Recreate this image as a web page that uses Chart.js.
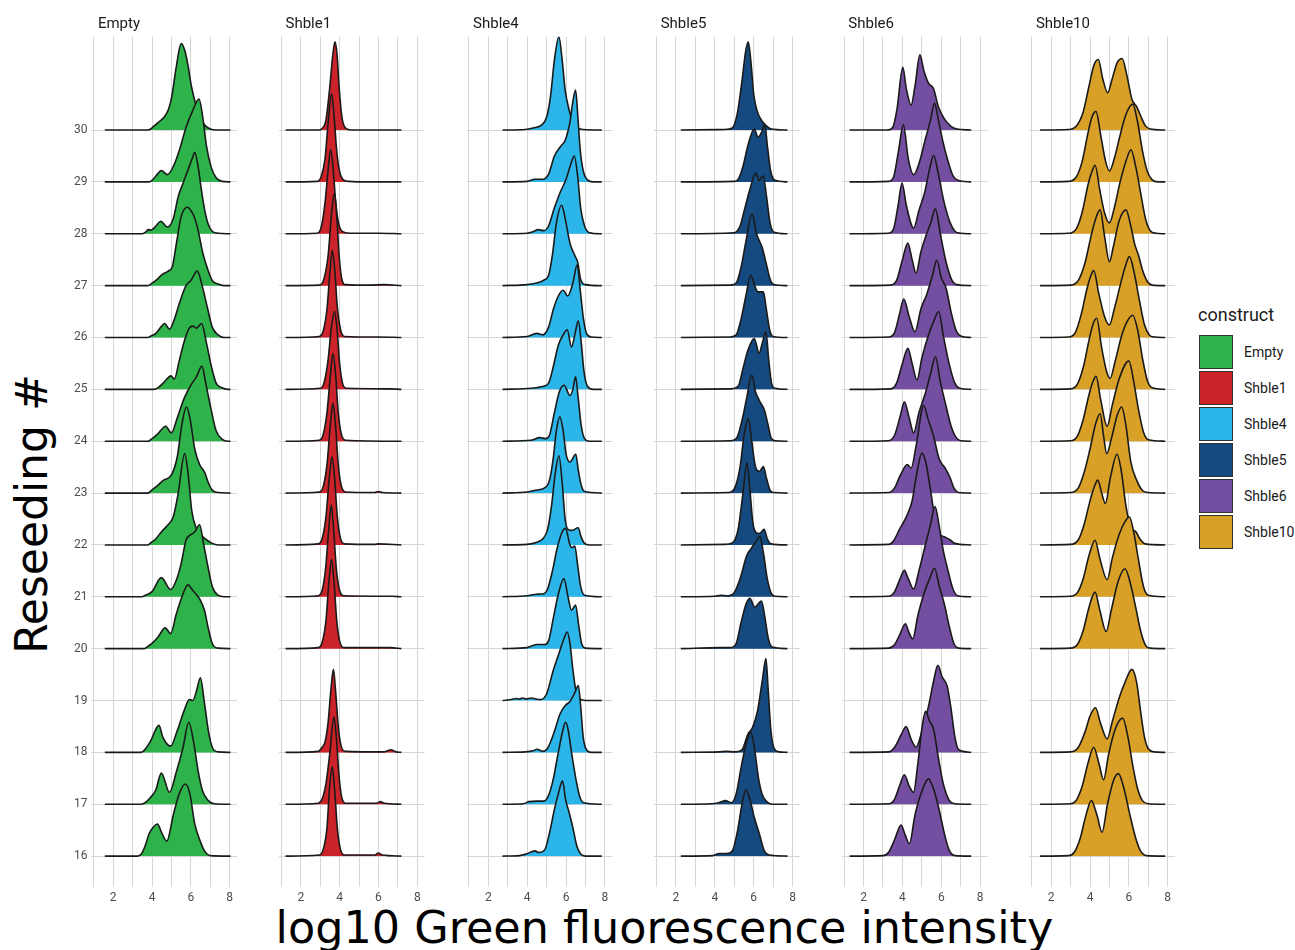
<!DOCTYPE html>
<html>
<head>
<meta charset="utf-8">
<script src="https://cdn.jsdelivr.net/npm/chart.js@4.4.0/dist/chart.umd.min.js"></script>
<style>
  body { margin: 0; width: 1295px; height: 950px; overflow: hidden; position: relative; background: #fff;
         font-family: Roboto, "Liberation Sans", sans-serif; }
  canvas { position: absolute; top: 0; }
  .strip { position: absolute; top: 14px; font-size: 15px; line-height: 18px; color: #1a1a1a; }
  #xtitle { position: absolute; left: 0; width: 1329px; top: 906px; text-align: center;
            font: 44.5px/44px "DejaVu Sans", sans-serif; color: #000; white-space: nowrap; }
  #ytitle { position: absolute; left: 32px; top: 514px; transform: translate(-50%, -50%) rotate(-90deg);
            font: 44px/44px "DejaVu Sans", sans-serif; color: #000; white-space: nowrap; }
  #legend-title { position: absolute; left: 1198px; top: 305px; font-size: 18px; line-height: 20px; color: #1a1a1a; }
  .key { position: absolute; left: 1199px; width: 32px; height: 32px; border: 1px solid #333; }
  .key-label { position: absolute; left: 1244px; font-size: 14px; line-height: 16px; color: #1a1a1a; }
</style>
</head>
<body>
<div id="xtitle">log10 Green fluorescence intensity</div>
<div id="ytitle">Reseeding #</div>
<div id="legend-title">construct</div>
<script>
'use strict';

// ---- Data ----

const constructs = ['Empty', 'Shble1', 'Shble4', 'Shble5', 'Shble6', 'Shble10'];
const constructColors = ['#2db34a', '#cc2229', '#2bb5e8', '#154a80', '#744ea0', '#d9a028'];
const xGrid = [1, 2, 3, 4, 5, 6, 7, 8];
const xTicks = [2, 4, 6, 8];
const yTicks = [16, 17, 18, 19, 20, 21, 22, 23, 24, 25, 26, 27, 28, 29, 30];

// each ridge: [log10 intensity, density height in rows above its baseline]
const emptyCurves = {
  30: [[1.57,0],[3.8,0],[3.97,0.03],[4.05,0.06],[4.3,0.14],[4.65,0.26],[4.85,0.4],[5.0,0.61],[5.25,1.22],[5.5,1.67],[5.7,1.52],[5.85,1.25],[6.03,0.84],[6.25,0.5],[6.5,0.22],[6.75,0.08],[7.0,0.02],[7.3,0],[8.04,0]],
  29: [[1.57,0],[3.85,0],[4.0,0.03],[4.3,0.16],[4.48,0.22],[4.8,0.14],[5.1,0.3],[5.4,0.6],[5.75,1.05],[6.1,1.38],[6.42,1.6],[6.63,1.2],[6.8,0.7],[7.05,0.28],[7.3,0.08],[7.6,0.01],[8.04,0]],
  28: [[1.57,0],[3.5,0],[3.7,0.04],[3.8,0.08],[3.95,0.07],[4.2,0.15],[4.45,0.24],[4.8,0.13],[5.1,0.3],[5.35,0.72],[5.6,0.98],[5.85,1.23],[6.1,1.48],[6.2,1.57],[6.37,1.3],[6.54,0.85],[6.71,0.46],[6.88,0.2],[7.1,0.05],[7.4,0.01],[8.04,0]],
  27: [[1.57,0],[3.8,0],[3.9,0.02],[4.2,0.1],[4.55,0.22],[4.83,0.28],[5.05,0.37],[5.25,0.8],[5.5,1.33],[5.82,1.51],[6.0,1.45],[6.17,1.33],[6.37,1.07],[6.62,0.62],[6.88,0.3],[7.1,0.1],[7.4,0.03],[7.7,0],[8.04,0]],
  26: [[1.57,0],[3.8,0],[3.9,0.02],[4.2,0.08],[4.45,0.2],[4.65,0.27],[4.9,0.16],[5.15,0.35],[5.4,0.65],[5.75,1.0],[6.0,1.1],[6.33,1.28],[6.6,0.97],[6.88,0.53],[7.1,0.2],[7.4,0.05],[7.7,0],[8.04,0]],
  25: [[1.57,0],[4.1,0],[4.3,0.03],[4.6,0.13],[4.98,0.26],[5.15,0.2],[5.4,0.55],[5.68,0.95],[5.92,1.18],[6.1,1.22],[6.3,1.18],[6.55,1.27],[6.8,0.9],[7.05,0.45],[7.3,0.12],[7.6,0.03],[7.9,0],[8.04,0]],
  24: [[1.57,0],[3.8,0],[3.9,0.02],[4.3,0.14],[4.7,0.29],[5.0,0.16],[5.3,0.45],[5.68,0.85],[6.0,1.08],[6.3,1.25],[6.57,1.45],[6.75,1.15],[7.05,0.6],[7.3,0.2],[7.6,0.04],[7.9,0],[8.04,0]],
  23: [[1.57,0],[3.8,0],[3.9,0.03],[4.2,0.12],[4.6,0.25],[5.0,0.35],[5.3,0.7],[5.55,1.35],[5.77,1.66],[5.95,1.45],[6.2,0.85],[6.45,0.55],[6.71,0.4],[6.9,0.2],[7.1,0.06],[7.4,0.01],[8.04,0]],
  22: [[1.57,0],[3.8,0],[3.9,0.03],[4.2,0.12],[4.5,0.26],[4.8,0.38],[5.1,0.55],[5.35,1.0],[5.68,1.76],[5.85,1.4],[6.05,0.65],[6.25,0.35],[6.5,0.2],[6.8,0.1],[7.1,0.03],[7.4,0],[8.04,0]],
  21: [[1.57,0],[3.5,0],[3.6,0.02],[4.0,0.1],[4.48,0.37],[4.96,0.14],[5.25,0.32],[5.5,0.64],[5.75,1.09],[6.0,1.2],[6.2,1.25],[6.45,1.39],[6.65,1.03],[6.88,0.58],[7.1,0.2],[7.4,0.03],[7.7,0],[8.04,0]],
  20: [[1.57,0],[3.6,0],[3.7,0.02],[4.0,0.1],[4.3,0.22],[4.68,0.4],[4.96,0.29],[5.25,0.67],[5.6,1.06],[5.85,1.23],[6.1,1.12],[6.45,0.96],[6.7,0.74],[6.88,0.42],[7.1,0.1],[7.4,0.01],[8.04,0]],
  18: [[1.57,0],[3.4,0],[3.6,0.04],[3.9,0.2],[4.36,0.52],[4.55,0.3],[4.96,0.12],[5.3,0.42],[5.65,0.8],[5.92,1.02],[6.1,1.0],[6.3,1.2],[6.49,1.44],[6.7,0.95],[6.9,0.42],[7.1,0.1],[7.4,0.01],[8.04,0]],
  17: [[1.57,0],[3.4,0],[3.6,0.02],[3.9,0.12],[4.2,0.28],[4.48,0.6],[4.9,0.23],[5.25,0.62],[5.6,1.1],[5.89,1.58],[6.15,1.18],[6.37,0.65],[6.6,0.26],[6.9,0.07],[7.2,0.01],[8.04,0]],
  16: [[1.57,0],[3.25,0],[3.45,0.04],[3.65,0.2],[3.85,0.43],[4.05,0.55],[4.28,0.62],[4.5,0.45],[4.76,0.29],[5.1,0.8],[5.4,1.2],[5.72,1.39],[5.95,1.2],[6.2,0.62],[6.5,0.27],[6.7,0.1],[7.0,0.01],[8.04,0]],
};

const shble1Curves = {
  30: [[1.22,0],[2.9,0],[3.1,0.03],[3.3,0.2],[3.5,0.85],[3.65,1.45],[3.76,1.7],[3.87,1.45],[3.97,0.85],[4.12,0.25],[4.3,0.04],[4.6,0],[7.18,0]],
  29: [[1.22,0],[2.85,0.01],[3.05,0.1],[3.25,0.45],[3.4,1.1],[3.59,1.7],[3.72,1.25],[3.85,0.6],[4.0,0.2],[4.2,0.04],[4.5,0.01],[5.5,0],[7.18,0]],
  28: [[1.22,0],[2.85,0.01],[3.05,0.12],[3.25,0.6],[3.4,1.2],[3.54,1.62],[3.68,1.2],[3.8,0.6],[3.95,0.2],[4.15,0.04],[4.5,0.01],[6.0,0.01],[7.18,0]],
  27: [[1.22,0],[2.95,0.01],[3.15,0.08],[3.4,0.55],[3.6,1.45],[3.74,1.78],[3.86,1.3],[3.97,0.6],[4.1,0.15],[4.3,0.02],[5.5,0.01],[6.3,0.02],[7.18,0]],
  26: [[1.22,0],[2.95,0.02],[3.15,0.12],[3.35,0.55],[3.5,1.25],[3.62,1.68],[3.75,1.3],[3.88,0.6],[4.05,0.15],[4.25,0.02],[6.0,0.01],[7.18,0]],
  25: [[1.22,0],[3.0,0.02],[3.2,0.13],[3.4,0.55],[3.58,1.2],[3.74,1.5],[3.87,1.15],[4.0,0.5],[4.15,0.12],[4.35,0.02],[6.5,0.01],[7.18,0]],
  24: [[1.22,0],[2.95,0.02],[3.15,0.12],[3.35,0.55],[3.52,1.25],[3.66,1.69],[3.8,1.25],[3.93,0.55],[4.08,0.15],[4.3,0.02],[7.18,0]],
  23: [[1.22,0],[2.95,0.02],[3.15,0.12],[3.35,0.55],[3.52,1.3],[3.66,1.73],[3.8,1.25],[3.93,0.55],[4.08,0.15],[4.3,0.02],[5.8,0.01],[6.0,0.03],[6.2,0.01],[7.18,0]],
  22: [[1.22,0],[2.9,0.02],[3.1,0.12],[3.3,0.55],[3.47,1.3],[3.61,1.7],[3.75,1.25],[3.88,0.55],[4.03,0.15],[4.25,0.02],[5.8,0.01],[6.0,0.02],[7.18,0]],
  21: [[1.22,0],[2.9,0.02],[3.1,0.12],[3.28,0.55],[3.44,1.3],[3.57,1.77],[3.7,1.25],[3.83,0.55],[3.98,0.15],[4.2,0.02],[6.7,0.01],[7.18,0]],
  20: [[1.22,0],[2.9,0.02],[3.1,0.12],[3.3,0.55],[3.45,1.3],[3.59,1.72],[3.72,1.25],[3.85,0.55],[4.0,0.15],[4.2,0.02],[5.95,0.02],[6.6,0.02],[7.18,0]],
  18: [[1.22,0],[2.9,0.02],[3.1,0.1],[3.25,0.2],[3.4,0.55],[3.55,1.2],[3.68,1.6],[3.8,1.15],[3.93,0.5],[4.08,0.12],[4.3,0.02],[6.3,0.01],[6.65,0.05],[6.9,0.01],[7.18,0]],
  17: [[1.22,0],[2.9,0.02],[3.1,0.1],[3.3,0.4],[3.5,1.0],[3.71,1.68],[3.85,1.2],[3.97,0.55],[4.1,0.15],[4.3,0.02],[5.0,0.02],[5.9,0.02],[6.1,0.05],[6.3,0.02],[7.18,0]],
  16: [[1.22,0],[2.95,0.02],[3.15,0.12],[3.35,0.55],[3.48,1.3],[3.62,1.72],[3.75,1.25],[3.88,0.55],[4.03,0.15],[4.25,0.02],[5.2,0.02],[5.8,0.02],[6.0,0.06],[6.2,0.02],[7.18,0]],
};

const shble4Curves = {
  30: [[2.73,0],[3.9,0.01],[4.3,0.04],[4.75,0.1],[5.0,0.25],[5.2,0.65],[5.4,1.35],[5.63,1.8],[5.8,1.35],[5.95,0.78],[6.15,0.4],[6.3,0.2],[6.55,0.05],[6.9,0.01],[7.84,0]],
  29: [[2.73,0],[4.0,0.01],[4.4,0.05],[4.8,0.05],[5.1,0.15],[5.4,0.5],[5.75,0.7],[5.95,0.8],[6.2,1.15],[6.35,1.55],[6.49,1.77],[6.6,1.3],[6.72,0.65],[6.88,0.22],[7.1,0.04],[7.4,0],[7.84,0]],
  28: [[2.73,0],[4.0,0.01],[4.3,0.04],[4.57,0.08],[4.85,0.06],[5.1,0.15],[5.4,0.5],[5.7,0.8],[6.0,1.05],[6.25,1.35],[6.42,1.5],[6.6,1.1],[6.75,0.5],[6.95,0.15],[7.2,0.02],[7.84,0]],
  27: [[2.73,0],[4.0,0.02],[4.5,0.05],[4.83,0.1],[5.1,0.2],[5.3,0.6],[5.5,1.2],[5.77,1.55],[5.95,1.3],[6.2,0.82],[6.45,0.58],[6.6,0.45],[6.75,0.12],[7.0,0.02],[7.84,0]],
  26: [[2.73,0],[4.0,0.02],[4.48,0.08],[4.8,0.05],[5.1,0.2],[5.35,0.55],[5.6,0.8],[5.85,0.91],[6.08,0.8],[6.35,1.05],[6.57,1.4],[6.72,0.95],[6.88,0.4],[7.05,0.08],[7.3,0.01],[7.84,0]],
  25: [[2.73,0],[4.2,0.02],[4.83,0.06],[5.1,0.12],[5.35,0.45],[5.6,0.85],[5.85,1.05],[6.06,1.15],[6.28,0.82],[6.45,1.05],[6.63,1.32],[6.78,0.9],[6.92,0.35],[7.1,0.06],[7.4,0],[7.84,0]],
  24: [[2.73,0],[4.2,0.02],[4.65,0.07],[4.95,0.05],[5.15,0.12],[5.4,0.55],[5.65,0.95],[5.9,1.08],[6.2,0.88],[6.35,1.0],[6.49,1.24],[6.62,0.85],[6.78,0.3],[6.95,0.05],[7.2,0],[7.84,0]],
  23: [[2.73,0],[4.0,0.02],[4.5,0.06],[4.9,0.1],[5.15,0.25],[5.35,0.7],[5.5,1.2],[5.68,1.47],[5.85,1.2],[6.0,0.75],[6.2,0.6],[6.5,0.75],[6.63,0.44],[6.78,0.15],[6.95,0.03],[7.84,0]],
  22: [[2.73,0],[4.0,0.01],[4.5,0.05],[4.83,0.13],[5.05,0.3],[5.25,0.75],[5.45,1.4],[5.63,1.72],[5.8,1.2],[5.95,0.5],[6.1,0.3],[6.3,0.28],[6.62,0.33],[6.78,0.15],[6.95,0.03],[7.2,0],[7.84,0]],
  21: [[2.73,0],[4.0,0.02],[4.5,0.05],[4.85,0.06],[5.05,0.15],[5.3,0.5],[5.55,0.95],[5.8,1.25],[5.97,1.32],[6.2,1.0],[6.3,0.95],[6.45,0.98],[6.6,0.6],[6.75,0.2],[6.95,0.03],[7.84,0]],
  20: [[2.73,0],[4.0,0.02],[4.48,0.08],[4.9,0.08],[5.1,0.15],[5.35,0.6],[5.6,1.05],[5.89,1.35],[6.1,1.0],[6.28,0.74],[6.49,0.84],[6.65,0.45],[6.8,0.1],[7.0,0.01],[7.84,0]],
  19: [[2.73,0],[3.2,0.02],[3.45,0.04],[3.6,0.03],[3.75,0.05],[3.95,0.03],[4.2,0.05],[4.45,0.03],[4.7,0.02],[5.0,0.13],[5.34,0.58],[5.68,0.96],[5.9,1.2],[6.06,1.32],[6.2,1.1],[6.35,0.6],[6.5,0.2],[6.7,0.03],[7.0,0],[7.84,0]],
  18: [[2.73,0],[3.9,0.01],[4.3,0.03],[4.5,0.06],[4.8,0.02],[5.05,0.08],[5.35,0.35],[5.7,0.75],[5.95,0.9],[6.2,0.98],[6.45,1.15],[6.63,1.29],[6.75,0.9],[6.88,0.3],[7.05,0.05],[7.3,0],[7.84,0]],
  17: [[2.73,0],[3.8,0.01],[4.1,0.05],[4.5,0.06],[4.85,0.06],[5.1,0.17],[5.35,0.5],[5.6,1.0],[5.85,1.45],[5.97,1.58],[6.1,1.45],[6.3,0.95],[6.5,0.5],[6.7,0.15],[6.9,0.03],[7.84,0]],
  16: [[2.73,0],[3.6,0.01],[3.95,0.04],[4.4,0.1],[4.6,0.07],[4.9,0.12],[5.15,0.45],[5.4,0.9],[5.6,1.2],[5.82,1.45],[5.97,1.1],[6.15,0.85],[6.35,0.55],[6.55,0.2],[6.75,0.04],[7.0,0],[7.84,0]],
};

const shble5Curves = {
  30: [[2.25,0],[4.5,0.01],[4.9,0.04],[5.15,0.3],[5.4,0.95],[5.58,1.5],[5.72,1.7],[5.85,1.35],[6.0,0.7],[6.17,0.38],[6.4,0.19],[6.65,0.08],[6.9,0.02],[7.74,0]],
  29: [[2.25,0],[5.0,0.01],[5.2,0.05],[5.45,0.3],[5.7,0.7],[6.03,1.02],[6.23,0.86],[6.4,0.95],[6.57,1.1],[6.72,0.65],[6.88,0.2],[7.1,0.03],[7.74,0]],
  28: [[2.25,0],[5.0,0.02],[5.3,0.15],[5.55,0.5],[5.8,0.85],[6.11,1.17],[6.28,1.03],[6.49,1.12],[6.65,0.75],[6.85,0.2],[7.05,0.03],[7.74,0]],
  27: [[2.25,0],[4.8,0.01],[5.1,0.05],[5.35,0.35],[5.6,0.85],[5.92,1.38],[6.15,1.0],[6.45,0.72],[6.65,0.42],[6.85,0.12],[7.05,0.02],[7.74,0]],
  26: [[2.25,0],[4.8,0.01],[5.1,0.05],[5.35,0.35],[5.6,0.8],[5.85,1.2],[6.05,1.0],[6.22,0.88],[6.5,0.88],[6.65,0.55],[6.82,0.15],[7.0,0.02],[7.74,0]],
  25: [[2.25,0],[4.8,0.01],[5.2,0.06],[5.45,0.4],[5.7,0.75],[6.03,0.98],[6.28,0.7],[6.45,0.9],[6.63,1.11],[6.78,0.55],[6.92,0.12],[7.1,0.02],[7.74,0]],
  24: [[2.25,0],[4.8,0.01],[5.15,0.08],[5.4,0.4],[5.65,0.85],[5.9,1.27],[6.1,0.95],[6.3,0.78],[6.55,0.6],[6.75,0.3],[6.9,0.06],[7.1,0.01],[7.74,0]],
  23: [[2.25,0],[4.7,0.01],[5.0,0.08],[5.3,0.5],[5.5,1.1],[5.72,1.44],[5.9,1.0],[6.1,0.5],[6.3,0.42],[6.5,0.51],[6.65,0.3],[6.85,0.05],[7.05,0.01],[7.74,0]],
  22: [[2.25,0],[4.5,0.01],[4.9,0.04],[5.2,0.3],[5.45,1.0],[5.65,1.58],[5.8,1.1],[5.95,0.45],[6.1,0.25],[6.3,0.22],[6.54,0.3],[6.7,0.12],[6.9,0.02],[7.74,0]],
  21: [[2.25,0],[4.0,0.01],[4.3,0.03],[4.7,0.02],[5.0,0.08],[5.3,0.35],[5.65,0.8],[5.85,0.92],[6.1,1.05],[6.33,1.16],[6.5,0.85],[6.7,0.35],[6.9,0.07],[7.1,0.01],[7.74,0]],
  20: [[2.25,0],[4.3,0.02],[4.8,0.02],[5.1,0.1],[5.35,0.5],[5.6,0.85],[5.8,0.97],[6.06,0.8],[6.4,0.92],[6.58,0.6],[6.75,0.2],[6.95,0.03],[7.74,0]],
  18: [[2.25,0],[4.2,0.01],[4.6,0.02],[5.0,0.01],[5.4,0.05],[5.7,0.35],[5.94,0.48],[6.2,0.8],[6.45,1.4],[6.63,1.81],[6.75,1.2],[6.88,0.45],[7.05,0.08],[7.3,0.01],[7.74,0]],
  17: [[2.25,0],[3.8,0.01],[4.2,0.03],[4.55,0.07],[4.85,0.03],[5.1,0.2],[5.35,0.7],[5.6,1.15],[5.85,1.39],[6.05,1.05],[6.25,0.5],[6.45,0.18],[6.7,0.04],[7.0,0],[7.74,0]],
  16: [[2.25,0],[3.9,0.01],[4.22,0.05],[4.6,0.05],[4.9,0.1],[5.15,0.45],[5.4,1.0],[5.6,1.28],[5.8,1.1],[6.03,0.75],[6.3,0.42],[6.55,0.1],[6.8,0.02],[7.74,0]],
};

const shble6Curves = {
  30: [[1.28,0],[3.2,0],[3.5,0.05],[3.72,0.4],[4.02,1.21],[4.2,0.8],[4.45,0.48],[4.65,0.85],[4.9,1.45],[5.1,1.15],[5.35,0.9],[5.6,0.8],[5.85,0.45],[6.15,0.22],[6.5,0.07],[6.8,0.02],[7.54,0]],
  29: [[1.28,0],[3.3,0.01],[3.55,0.1],[3.8,0.6],[4.05,1.1],[4.3,0.45],[4.58,0.14],[4.85,0.35],[5.2,0.85],[5.45,1.2],[5.65,1.52],[5.85,1.2],[6.1,0.75],[6.35,0.4],[6.6,0.12],[6.85,0.03],[7.54,0]],
  28: [[1.28,0],[3.3,0.01],[3.55,0.1],[3.78,0.55],[3.98,0.98],[4.2,0.55],[4.58,0.11],[4.85,0.45],[5.15,0.8],[5.4,1.25],[5.61,1.51],[5.85,1.15],[6.15,0.6],[6.45,0.22],[6.7,0.05],[7.0,0.01],[7.54,0]],
  27: [[1.28,0],[3.4,0.01],[3.7,0.1],[4.0,0.5],[4.28,0.82],[4.5,0.5],[4.7,0.24],[4.95,0.65],[5.2,0.95],[5.45,1.2],[5.7,1.48],[5.95,1.0],[6.25,0.45],[6.55,0.1],[6.8,0.02],[7.54,0]],
  26: [[1.28,0],[3.3,0.01],[3.6,0.1],[3.85,0.45],[4.07,0.74],[4.35,0.4],[4.65,0.11],[4.95,0.55],[5.27,0.85],[5.55,1.2],[5.77,1.49],[6.0,1.15],[6.25,0.95],[6.5,0.5],[6.75,0.15],[7.0,0.03],[7.54,0]],
  25: [[1.28,0],[3.4,0.01],[3.7,0.12],[4.0,0.5],[4.28,0.79],[4.5,0.5],[4.75,0.18],[5.0,0.6],[5.3,1.0],[5.6,1.3],[5.87,1.5],[6.1,1.05],[6.4,0.5],[6.7,0.12],[6.95,0.02],[7.54,0]],
  24: [[1.28,0],[3.3,0.01],[3.6,0.12],[3.9,0.5],[4.1,0.76],[4.35,0.45],[4.58,0.16],[4.85,0.55],[5.2,0.95],[5.45,1.3],[5.7,1.63],[5.95,1.15],[6.2,0.75],[6.5,0.3],[6.75,0.08],[7.0,0.01],[7.54,0]],
  23: [[1.28,0],[3.3,0.01],[3.6,0.1],[3.9,0.35],[4.25,0.55],[4.45,0.48],[4.7,0.9],[5.1,1.69],[5.3,1.45],[5.6,1.1],[5.9,0.65],[6.2,0.48],[6.45,0.3],[6.65,0.1],[6.9,0.01],[7.54,0]],
  22: [[1.28,0],[3.3,0.01],[3.55,0.08],[3.85,0.3],[4.2,0.54],[4.5,0.85],[4.75,1.4],[5.0,1.77],[5.2,1.6],[5.45,1.05],[5.7,0.45],[5.9,0.22],[6.2,0.15],[6.45,0.1],[6.7,0.03],[7.54,0]],
  21: [[1.28,0],[3.3,0.01],[3.6,0.1],[3.85,0.32],[4.1,0.51],[4.3,0.35],[4.58,0.15],[4.85,0.5],[5.15,0.95],[5.45,1.4],[5.68,1.74],[5.9,1.35],[6.1,0.9],[6.35,0.5],[6.6,0.15],[6.85,0.02],[7.54,0]],
  20: [[1.28,0],[3.3,0.01],[3.6,0.08],[3.9,0.3],[4.15,0.48],[4.35,0.3],[4.53,0.19],[4.8,0.65],[5.1,1.05],[5.4,1.35],[5.65,1.55],[5.9,1.2],[6.15,0.87],[6.4,0.45],[6.65,0.1],[6.9,0.01],[7.54,0]],
  18: [[1.28,0],[3.3,0.01],[3.6,0.1],[3.95,0.35],[4.19,0.5],[4.45,0.25],[4.7,0.1],[5.0,0.4],[5.35,0.9],[5.62,1.4],[5.82,1.68],[6.05,1.45],[6.3,1.28],[6.5,0.85],[6.7,0.3],[6.9,0.05],[7.54,0]],
  17: [[1.28,0],[3.3,0.01],[3.6,0.1],[3.85,0.35],[4.1,0.57],[4.35,0.35],[4.57,0.23],[4.8,0.8],[5.0,1.45],[5.19,1.79],[5.4,1.6],[5.6,1.45],[5.85,0.9],[6.1,0.4],[6.4,0.08],[6.7,0.01],[7.54,0]],
  16: [[1.28,0],[3.0,0.01],[3.3,0.08],[3.6,0.32],[3.93,0.6],[4.15,0.4],[4.36,0.24],[4.65,0.8],[5.0,1.25],[5.34,1.49],[5.6,1.3],[5.9,0.88],[6.15,0.45],[6.4,0.12],[6.7,0.01],[7.54,0]],
};

const shble10Curves = {
  30: [[1.43,0],[2.9,0.01],[3.3,0.08],[3.65,0.35],[3.95,0.85],[4.2,1.25],[4.43,1.36],[4.65,1.0],[4.91,0.72],[5.15,1.0],[5.4,1.3],[5.65,1.38],[5.9,1.05],[6.15,0.6],[6.4,0.45],[6.6,0.28],[6.85,0.08],[7.1,0.02],[7.87,0]],
  29: [[1.43,0],[2.9,0.01],[3.3,0.1],[3.6,0.4],[3.9,0.95],[4.1,1.25],[4.31,1.36],[4.55,0.9],[4.8,0.4],[5.0,0.21],[5.25,0.45],[5.55,0.9],[5.85,1.3],[6.2,1.5],[6.45,1.15],[6.7,0.6],[6.95,0.2],[7.2,0.04],[7.5,0],[7.87,0]],
  28: [[1.43,0],[2.9,0.01],[3.3,0.1],[3.6,0.42],[3.9,0.95],[4.1,1.2],[4.26,1.32],[4.5,0.85],[4.75,0.4],[5.0,0.21],[5.25,0.5],[5.55,1.0],[5.85,1.4],[6.11,1.62],[6.35,1.3],[6.6,0.8],[6.85,0.3],[7.1,0.06],[7.4,0.01],[7.87,0]],
  27: [[1.43,0],[3.0,0.01],[3.4,0.1],[3.75,0.45],[4.05,0.95],[4.3,1.3],[4.52,1.46],[4.75,0.95],[5.0,0.46],[5.2,0.75],[5.5,1.25],[5.85,1.46],[6.1,1.15],[6.3,0.8],[6.5,0.58],[6.7,0.3],[6.95,0.08],[7.2,0.01],[7.87,0]],
  26: [[1.43,0],[2.9,0.01],[3.25,0.1],[3.55,0.45],[3.85,0.95],[4.05,1.2],[4.19,1.29],[4.45,0.85],[4.75,0.4],[5.0,0.24],[5.25,0.55],[5.55,1.0],[5.8,1.35],[6.03,1.56],[6.3,1.2],[6.55,0.7],[6.8,0.25],[7.05,0.05],[7.3,0.01],[7.87,0]],
  25: [[1.43,0],[3.0,0.01],[3.35,0.1],[3.65,0.42],[3.95,0.95],[4.15,1.25],[4.34,1.37],[4.6,0.8],[4.85,0.35],[5.03,0.21],[5.3,0.55],[5.6,1.0],[5.9,1.3],[6.2,1.43],[6.45,1.15],[6.7,0.6],[6.95,0.17],[7.2,0.03],[7.87,0]],
  24: [[1.43,0],[3.0,0.01],[3.35,0.1],[3.65,0.42],[3.95,0.9],[4.15,1.15],[4.31,1.25],[4.55,0.8],[4.88,0.29],[5.15,0.7],[5.5,1.2],[6.0,1.55],[6.25,1.15],[6.5,0.6],[6.75,0.18],[7.0,0.03],[7.87,0]],
  23: [[1.43,0],[3.0,0.01],[3.4,0.1],[3.7,0.4],[4.0,0.85],[4.3,1.35],[4.52,1.53],[4.7,1.1],[4.86,0.76],[5.1,1.05],[5.4,1.5],[5.63,1.66],[5.85,1.3],[6.1,0.6],[6.4,0.25],[6.7,0.05],[7.0,0.01],[7.87,0]],
  22: [[1.43,0],[3.0,0.01],[3.4,0.1],[3.7,0.4],[4.0,0.85],[4.25,1.15],[4.4,1.25],[4.6,1.0],[4.79,0.8],[5.05,1.3],[5.39,1.75],[5.6,1.45],[5.85,0.75],[6.1,0.35],[6.37,0.25],[6.6,0.1],[6.85,0.02],[7.87,0]],
  21: [[1.43,0],[3.0,0.01],[3.35,0.08],[3.65,0.35],[3.95,0.8],[4.26,1.09],[4.5,0.75],[4.88,0.33],[5.15,0.75],[5.5,1.2],[5.8,1.45],[6.03,1.54],[6.25,1.25],[6.5,0.7],[6.75,0.2],[7.0,0.03],[7.87,0]],
  20: [[1.43,0],[3.0,0.01],[3.35,0.08],[3.65,0.35],[3.95,0.8],[4.26,1.09],[4.5,0.75],[4.83,0.33],[5.1,0.75],[5.45,1.3],[5.8,1.54],[6.05,1.3],[6.35,0.8],[6.6,0.35],[6.85,0.07],[7.1,0.01],[7.87,0]],
  18: [[1.43,0],[3.0,0.01],[3.4,0.1],[3.75,0.4],[4.0,0.7],[4.28,0.86],[4.55,0.55],[4.88,0.26],[5.15,0.6],[5.5,1.05],[5.8,1.35],[6.16,1.6],[6.4,1.35],[6.6,0.8],[6.8,0.3],[7.0,0.07],[7.3,0.01],[7.87,0]],
  17: [[1.43,0],[3.0,0.01],[3.3,0.08],[3.6,0.35],[3.9,0.8],[4.19,1.1],[4.45,0.8],[4.7,0.47],[4.95,0.95],[5.3,1.45],[5.68,1.66],[5.95,1.3],[6.2,0.75],[6.45,0.3],[6.7,0.07],[7.0,0.01],[7.87,0]],
  16: [[1.43,0],[2.9,0.01],[3.2,0.08],[3.5,0.35],[3.8,0.8],[4.07,1.07],[4.35,0.8],[4.62,0.46],[4.9,1.0],[5.2,1.45],[5.46,1.59],[5.75,1.3],[6.05,0.8],[6.35,0.35],[6.6,0.1],[6.9,0.01],[7.87,0]],
};

const facetCurves = [emptyCurves, shble1Curves, shble4Curves, shble5Curves, shble6Curves, shble10Curves];

// ---- Layout ----

const X_MIN = 0.88, X_MAX = 8.38, Y_MIN = 15.41, Y_MAX = 31.8;
const FIRST_LEFT = 91.4, FACET_STEP = 187.6, PANEL_W = 145.7;
const PANEL_TOP = 36.7, PANEL_BOTTOM = 886.7, AXIS_W = 40, H = 950;

Chart.defaults.font.family = 'Roboto, "Liberation Sans", sans-serif';

function ridgeDatasets(curves, color) {
  return Object.keys(curves).map(Number).sort((a, b) => a - b).map(row => ({
    data: curves[row].map(([x, h]) => ({ x, y: row + h })),
    fill: { value: row },
    backgroundColor: color,
    borderColor: '#1a1a1a',
    borderWidth: 1.6,
    pointRadius: 0,
    cubicInterpolationMode: 'monotone',
  }));
}

function buildFacet(i) {
  const panelLeft = FIRST_LEFT + i * FACET_STEP;
  const canvasLeft = Math.floor(panelLeft - AXIS_W);
  const yw = panelLeft - canvasLeft;
  const w = Math.ceil(yw + PANEL_W + 4);

  const cv = document.createElement('canvas');
  cv.width = w;
  cv.height = H;
  cv.style.left = canvasLeft + 'px';
  cv.style.width = w + 'px';
  cv.style.height = H + 'px';
  document.body.appendChild(cv);

  const strip = document.createElement('div');
  strip.className = 'strip';
  strip.style.left = (panelLeft + 6.5) + 'px';
  strip.textContent = constructs[i];
  document.body.appendChild(strip);

  new Chart(cv, {
    type: 'line',
    data: { datasets: ridgeDatasets(facetCurves[i], constructColors[i]) },
    options: {
      responsive: false,
      animation: false,
      events: [],
      layout: { padding: { top: PANEL_TOP, right: w - yw - PANEL_W, left: 0, bottom: 0 } },
      plugins: { legend: { display: false }, tooltip: { enabled: false } },
      scales: {
        x: {
          type: 'linear', min: X_MIN, max: X_MAX,
          afterBuildTicks: s => { s.ticks = xGrid.map(v => ({ value: v })); },
          afterFit: s => { s.height = H - PANEL_BOTTOM; },
          grid: { color: '#d6d6d6', drawTicks: false },
          border: { display: false },
          ticks: {
            autoSkip: false, maxRotation: 0, padding: 4, color: '#4d4d4d', font: { size: 12 },
            callback: v => xTicks.includes(v) ? String(v) : '',
          },
        },
        y: {
          type: 'linear', min: Y_MIN, max: Y_MAX,
          afterBuildTicks: s => { s.ticks = yTicks.map(v => ({ value: v })); },
          afterFit: s => { s.width = yw; },
          grid: { color: '#d6d6d6', drawTicks: false },
          border: { display: false },
          ticks: {
            display: i === 0, autoSkip: false, padding: 4, color: '#4d4d4d', font: { size: 12 },
            callback: v => String(v),
          },
        },
      },
    },
  });
}

function buildLegend() {
  constructs.forEach((name, i) => {
    const top = 335 + i * 36;
    const key = document.createElement('div');
    key.className = 'key';
    key.style.top = top + 'px';
    key.style.background = constructColors[i];
    document.body.appendChild(key);

    const label = document.createElement('div');
    label.className = 'key-label';
    label.style.top = (top + 9) + 'px';
    label.textContent = name;
    document.body.appendChild(label);
  });
}

constructs.forEach((_, i) => buildFacet(i));
buildLegend();
</script>
</body>
</html>
